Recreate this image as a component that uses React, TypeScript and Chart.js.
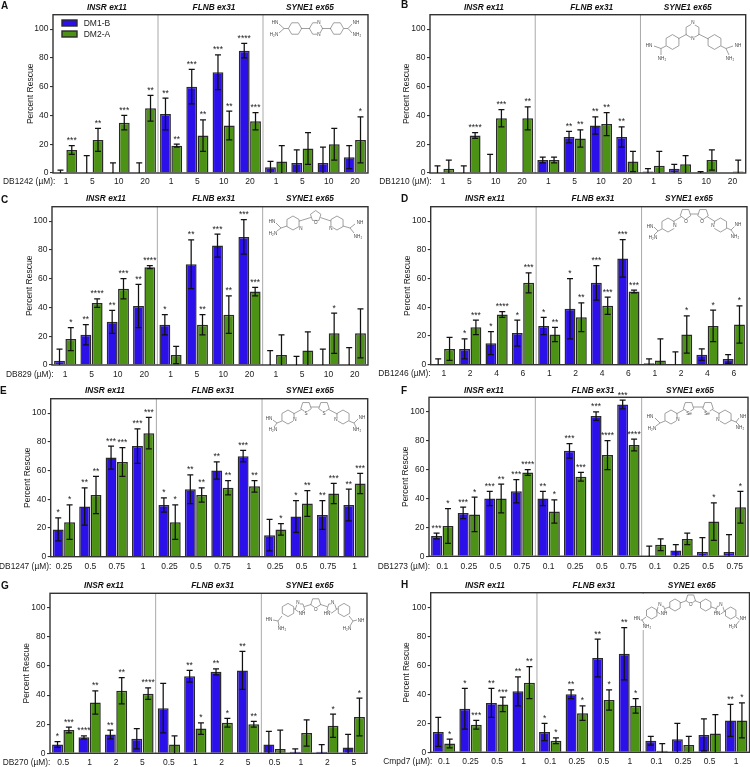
import React, { useEffect, useRef } from "react";
import { Chart, registerables } from "chart.js";

Chart.register(...registerables);

const FONT = "'Liberation Sans', Arial, sans-serif";
const BLUE = "#2b10ea";
const GREEN = "#4c9214";
const EDGE = "#2a2a2a";
const TEXT = "#222";
const series = ["DM1-B", "DM2-A"];
const sections = ["INSR ex11", "FLNB ex31", "SYNE1 ex65"];

const dosesA = ["1", "5", "10", "20"];
const dosesB = ["1", "5", "10", "20"];
const dosesC = ["1", "5", "10", "20"];
const dosesD = ["1", "2", "4", "6"];
const dosesE = ["0.25", "0.5", "0.75", "1"];
const dosesF = ["0.1", "0.25", "0.5", "0.75"];
const dosesG = ["0.5", "1", "2", "5"];
const dosesH = ["0.1", "0.25", "0.5", "1"];

const aBlue = [0, 0, 0, 0, 41, 60, 70, 85, 4, 7, 7, 11];
const aBlueErr = [2, 12, 7, 7, 11, 12, 12, 5, 4, 9, 11, 8];
const aGreen = [16, 23, 35, 45, 19, 26, 33, 36, 8, 17, 20, 23];
const aGreenErr = [3, 8, 5, 9, 1, 11, 10, 6, 11, 11, 11, 16];
const aBlueStars = ["", "", "", "", "**", "***", "***", "****", "", "", "", ""];
const aGreenStars = ["***", "**", "***", "**", "**", "**", "**", "***", "", "", "", "*"];

const bBlue = [0, 0, 0, 0, 9, 25, 33, 25, 1, 3, 0, 0];
const bBlueErr = [5, 5, 13, 0, 2, 4, 6, 7, 2, 3, 1, 0];
const bGreen = [3, 26, 38, 38, 9, 24, 34, 8, 5, 6, 9, 1];
const bGreenErr = [6, 2, 6, 8, 2, 6, 8, 7, 10, 6, 7, 8];
const bBlueStars = ["", "", "", "", "", "**", "**", "**", "", "", "", ""];
const bGreenStars = ["", "****", "***", "**", "", "**", "**", "", "", "", "", ""];

const cBlue = [3, 21, 30, 41, 28, 70, 83, 89, 0, 0, 0, 0];
const cBlueErr = [8, 7, 8, 15, 7, 17, 8, 12, 10, 6, 11, 12];
const cGreen = [18, 43, 53, 68, 7, 28, 35, 51, 7, 10, 22, 22];
const cGreenErr = [8, 3, 7, 1, 6, 7, 13, 3, 14, 13, 14, 17];
const cBlueStars = ["", "**", "**", "**", "*", "**", "***", "***", "", "", "", ""];
const cGreenStars = ["*", "****", "***", "****", "", "**", "**", "***", "", "", "*", ""];

const dBlue = [0, 11, 15, 22, 27, 39, 57, 74, 1, 0, 7, 4];
const dBlueErr = [4, 7, 8, 9, 6, 21, 12, 13, 3, 9, 4, 3];
const dGreen = [11, 26, 35, 57, 21, 33, 41, 51, 3, 21, 27, 28];
const dGreenErr = [8, 5, 2, 7, 5, 10, 6, 1, 15, 13, 11, 13];
const dBlueStars = ["", "*", "*", "*", "*", "*", "***", "***", "", "", "", ""];
const dGreenStars = ["", "***", "****", "***", "**", "**", "***", "***", "", "*", "*", "*"];

const eBlue = [19, 35, 69, 77, 36, 47, 60, 70, 15, 28, 29, 36];
const eBlueErr = [8, 13, 8, 12, 5, 10, 6, 4, 11, 11, 10, 11];
const eGreen = [24, 43, 66, 86, 24, 43, 48, 49, 19, 37, 44, 51];
const eGreenErr = [12, 13, 10, 11, 12, 5, 5, 4, 4, 9, 7, 7];
const eBlueStars = ["*", "**", "***", "***", "*", "**", "**", "***", "", "*", "**", "**"];
const eGreenStars = ["*", "**", "***", "***", "*", "**", "**", "**", "*", "**", "***", "***"];

const fBlue = [14, 30, 40, 45, 40, 73, 97, 105, 0, 4, 3, 3];
const fBlueErr = [2, 4, 5, 8, 5, 5, 3, 3, 7, 4, 10, 12];
const fGreen = [21, 29, 40, 58, 31, 55, 70, 77, 8, 12, 24, 34];
const fGreenErr = [12, 12, 10, 2, 8, 3, 10, 4, 4, 4, 13, 11];
const fBlueStars = ["***", "***", "***", "***", "**", "***", "***", "***", "", "", "", ""];
const fGreenStars = ["*", "*", "**", "****", "*", "***", "****", "****", "", "", "*", "*"];

const gBlue = [6, 11, 13, 10, 31, 53, 56, 57, 6, 1, 1, 4];
const gBlueErr = [2, 1, 3, 7, 17, 4, 2, 13, 9, 2, 5, 9];
const gGreen = [16, 35, 43, 41, 6, 17, 21, 20, 3, 14, 19, 25];
const gGreenErr = [2, 8, 9, 4, 6, 4, 3, 2, 13, 9, 8, 13];
const gBlueStars = ["*", "****", "**", "", "", "**", "**", "**", "", "", "", ""];
const gGreenStars = ["***", "**", "**", "****", "", "*", "*", "**", "", "", "*", "*"];

const hBlue = [14, 30, 34, 42, 14, 40, 65, 68, 8, 9, 12, 22];
const hBlueErr = [10, 14, 10, 10, 6, 3, 13, 18, 3, 11, 11, 11];
const hGreen = [6, 19, 33, 48, 8, 27, 36, 32, 1, 5, 13, 22];
const hGreenErr = [3, 3, 5, 11, 2, 5, 7, 5, 5, 6, 13, 12];
const hBlueStars = ["", "*", "**", "**", "*", "**", "**", "**", "", "", "", "**"];
const hGreenStars = ["*", "***", "***", "**", "*", "*", "*", "*", "", "", "", "*"];

type Ring = [number, number, number, number, number];
type Lab = [string, number, number];
type Seg = [number, number, number, number];
type Structure = { rings: Ring[]; labs: Lab[]; segs: Seg[]; mask?: number[] };

// Compound line drawings (page pixels): rings are [cx, cy, sides, radius, rotation].
const amidine = (cx: number, cy: number, rx: number, ry: number, a: number[], b: number[]): Seg[] => [
  [rx, ry, cx, cy],
  [cx, cy, a[0], a[1]],
  [cx, cy, b[0], b[1]],
];

const structA: Structure = {
  rings: [[295, 28.5, 6, 6.6, 0], [316, 28.5, 6, 6.6, 0], [337, 28.5, 6, 6.6, 0]],
  labs: [["HN", 275, 23], ["H₂N", 274, 35], ["N", 319, 22.5], ["N", 319, 35], ["NH", 356, 22.5], ["NH₂", 357, 35]],
  segs: [...amidine(284, 28.5, 288.4, 28.5, [279, 24], [279, 33]), ...amidine(348, 28.5, 343.6, 28.5, [352, 24], [352, 33])],
};
const structB: Structure = {
  rings: [[672.5, 42, 6, 7.4, 30], [692.5, 31, 6, 7.4, 30], [714.5, 42, 6, 7.4, 30]],
  labs: [["HN", 649, 46], ["NH₂", 662, 59], ["N", 693, 23], ["N", 693, 38.5], ["NH", 738, 46], ["NH₂", 730, 59]],
  segs: [...amidine(661, 48.5, 666, 46, [654, 46], [661, 55]), ...amidine(726, 48.5, 721, 46, [733, 46], [729, 55])],
};
const structC: Structure = {
  rings: [[293, 223, 6, 7, 30], [315.7, 216, 5, 5.5, -90], [337, 223, 6, 7, 30]],
  labs: [["HN", 272, 222], ["H₂N", 273, 234], ["N", 301, 229], ["O", 315.7, 223], ["N", 331, 229], ["NH", 360, 223], ["NH₂", 358, 237]],
  segs: [...amidine(281, 228, 287, 226, [276, 223], [277, 231]), ...amidine(350, 228, 343, 226, [355, 224], [354, 233])],
};
const structD: Structure = {
  rings: [[668, 225, 6, 7, 30], [685.5, 214, 5, 5.5, 90], [703, 214, 5, 5.5, 90], [720.5, 225, 6, 7, 30]],
  labs: [["HN", 650, 226.5], ["H₂N", 653, 238], ["N", 675, 226], ["O", 686, 222], ["O", 702, 222], ["N", 713, 226], ["NH", 738, 225], ["NH₂", 735, 237]],
  segs: [...amidine(658, 231, 662, 229, [654, 227], [654, 235]), ...amidine(731, 230, 727, 228, [735, 226], [734, 234])],
};
const structE: Structure = {
  rings: [[288, 417, 6, 7, 30], [306, 407, 5, 5.5, 90], [324, 407, 5, 5.5, 90], [343, 417, 6, 7, 30]],
  labs: [["HN", 269, 419], ["H₂N", 273, 430], ["N", 295, 420], ["S", 306, 413.5], ["S", 324, 413.5], ["N", 336, 420], ["NH", 362, 418], ["NH₂", 357, 430]],
  segs: [...amidine(277, 423, 282, 421, [273, 420], [274, 427]), ...amidine(354, 423, 349, 421, [358, 419], [356, 427])],
};
const structF: Structure = {
  rings: [[671, 417, 6, 7, 30], [688.5, 407, 5, 5.5, 90], [708, 407, 5, 5.5, 90], [725, 417, 6, 7, 30]],
  labs: [["HN", 650, 417], ["H₂N", 652, 429], ["N", 678, 420], ["Se", 689, 413.5], ["Se", 707, 413.5], ["N", 718, 420], ["NH", 743, 417], ["NH₂", 740, 428]],
  segs: [...amidine(660, 423, 665, 421, [655, 418], [656, 426]), ...amidine(736, 422, 731, 420, [739, 418], [739, 425])],
};
const structG: Structure = {
  rings: [[288, 610, 6, 6.6, 30], [300, 608, 5, 5, 18], [315.7, 603, 5, 5.2, 90], [331.7, 608, 5, 5, 162], [344, 610, 6, 6.6, 30]],
  labs: [["HN", 269, 620], ["NH₂", 282, 629], ["N", 298, 602.5], ["NH", 302, 614], ["O", 315.7, 609.5], ["HN", 327, 614], ["N", 332.7, 602.5], ["NH", 361, 620.5], ["H₂N", 347, 629]],
  segs: [...amidine(278, 621, 282, 616, [273, 620], [279, 626]), ...amidine(353, 621, 349, 616, [357, 620], [350, 626])],
};
const structH: Structure = {
  rings: [[651.7, 613, 6, 6, 30], [661, 610, 5, 4.6, 18], [675, 605, 6, 6, 30], [690.7, 599, 5, 5, 90], [705.7, 605, 6, 6, 30], [720, 610, 5, 4.6, 162], [730.7, 613, 6, 6, 30]],
  labs: [["HN", 637, 619], ["NH₂", 647, 627], ["N", 660, 605], ["NH", 664, 614], ["O", 690.7, 605], ["HN", 717, 614], ["N", 721, 605], ["NH", 743, 619], ["H₂N", 733, 627]],
  segs: [...amidine(642, 620, 646, 617, [640, 620], [645, 625]), ...amidine(740, 620, 736, 617, [741, 620], [736, 625])],
  mask: [636, 594, 110, 36],
};

type Panel = {
  letter: string; compound: string; doses: string[];
  blue: number[]; blueErr: number[]; green: number[]; greenErr: number[];
  blueStars: string[]; greenStars: string[];
  box: number[]; plot: number[]; letterAt: number[]; labelAt: number[]; titleX: number[]; titleY: number; yTitleX: number;
  struct: Structure; legend?: boolean;
};

const panels: Panel[] = [
  { letter: "A", compound: "DB1242", doses: dosesA, blue: aBlue, blueErr: aBlueErr, green: aGreen, greenErr: aGreenErr, blueStars: aBlueStars, greenStars: aGreenStars,
    box: [0, 0, 375, 192], plot: [53, 14.7, 368, 173], letterAt: [1, 6.7], labelAt: [3, 182], titleX: [107, 214, 310], titleY: 7.3, yTitleX: 30.7, struct: structA, legend: true },
  { letter: "B", compound: "DB1210", doses: dosesB, blue: bBlue, blueErr: bBlueErr, green: bGreen, greenErr: bGreenErr, blueStars: bBlueStars, greenStars: bGreenStars,
    box: [375, 0, 375, 192], plot: [430, 14.7, 745.7, 173], letterAt: [401, 5.5], labelAt: [379.3, 182], titleX: [484, 591.7, 687.7], titleY: 7.3, yTitleX: 406.7, struct: structB },
  { letter: "C", compound: "DB829", doses: dosesC, blue: cBlue, blueErr: cBlueErr, green: cGreen, greenErr: cGreenErr, blueStars: cBlueStars, greenStars: cGreenStars,
    box: [0, 192, 375, 192], plot: [52, 206.7, 368, 365], letterAt: [1, 200], labelAt: [6, 374.3], titleX: [106, 213.7, 310], titleY: 199, yTitleX: 29.3, struct: structC },
  { letter: "D", compound: "DB1246", doses: dosesD, blue: dBlue, blueErr: dBlueErr, green: dGreen, greenErr: dGreenErr, blueStars: dBlueStars, greenStars: dGreenStars,
    box: [375, 192, 375, 192], plot: [430.7, 206.7, 747, 364.7], letterAt: [401, 199.5], labelAt: [378.3, 374], titleX: [485, 593, 689], titleY: 199, yTitleX: 407.3, struct: structD },
  { letter: "E", compound: "DB1247", doses: dosesE, blue: eBlue, blueErr: eBlueErr, green: eGreen, greenErr: eGreenErr, blueStars: eBlueStars, greenStars: eGreenStars,
    box: [0, 384, 375, 192], plot: [50.7, 398.7, 367.7, 556.7], letterAt: [0, 391.3], labelAt: [-1, 566.3], titleX: [105, 213, 310], titleY: 391, yTitleX: 28, struct: structE },
  { letter: "F", compound: "DB1273", doses: dosesF, blue: fBlue, blueErr: fBlueErr, green: fGreen, greenErr: fGreenErr, blueStars: fBlueStars, greenStars: fGreenStars,
    box: [375, 384, 375, 192], plot: [429, 397.3, 748, 556.3], letterAt: [401, 391.3], labelAt: [377.7, 566.3], titleX: [484, 593, 690], titleY: 390.3, yTitleX: 405.7, struct: structF },
  { letter: "G", compound: "DB270", doses: dosesG, blue: gBlue, blueErr: gBlueErr, green: gGreen, greenErr: gGreenErr, blueStars: gBlueStars, greenStars: gGreenStars,
    box: [0, 576, 375, 191], plot: [50, 593.3, 367, 753.3], letterAt: [1, 586], labelAt: [2.7, 762.7], titleX: [104, 212.7, 309.7], titleY: 586, yTitleX: 26.7, struct: structG },
  { letter: "H", compound: "Cmpd7", doses: dosesH, blue: hBlue, blueErr: hBlueErr, green: hGreen, greenErr: hGreenErr, blueStars: hBlueStars, greenStars: hGreenStars,
    box: [375, 576, 375, 191], plot: [430.7, 592.7, 749.5, 752.3], letterAt: [401, 585.7], labelAt: [383.3, 761.7], titleX: [485, 594, 691.7], titleY: 585.3, yTitleX: 406.7, struct: structH },
];

const FS = 8.5;
const LH = FS * 1.2;

function drawStructure(ctx: CanvasRenderingContext2D, s: Structure, ox: number, oy: number) {
  ctx.save();
  ctx.translate(-ox, -oy);
  if (s.mask) {
    ctx.fillStyle = "#fff";
    ctx.fillRect(s.mask[0], s.mask[1], s.mask[2], s.mask[3]);
  }
  ctx.strokeStyle = "#777";
  ctx.lineWidth = 0.7;
  s.rings.forEach(([cx, cy, n, r, rot]) => {
    ctx.beginPath();
    for (let i = 0; i < n; i++) {
      const a = ((rot + (i * 360) / n) * Math.PI) / 180;
      const x = cx + r * Math.cos(a);
      const y = cy + r * Math.sin(a);
      if (i === 0) ctx.moveTo(x, y);
      else ctx.lineTo(x, y);
    }
    ctx.closePath();
    ctx.stroke();
  });
  for (let i = 0; i + 1 < s.rings.length; i++) {
    const [x1, y1, , r1] = s.rings[i];
    const [x2, y2, , r2] = s.rings[i + 1];
    const d = Math.hypot(x2 - x1, y2 - y1);
    if (d <= r1 + r2) continue;
    const ux = (x2 - x1) / d;
    const uy = (y2 - y1) / d;
    ctx.beginPath();
    ctx.moveTo(x1 + ux * r1 * 0.9, y1 + uy * r1 * 0.9);
    ctx.lineTo(x2 - ux * r2 * 0.9, y2 - uy * r2 * 0.9);
    ctx.stroke();
  }
  s.segs.forEach(([a, b, c, d]) => {
    ctx.beginPath();
    ctx.moveTo(a, b);
    ctx.lineTo(c, d);
    ctx.stroke();
  });
  ctx.font = `4.6px ${FONT}`;
  ctx.textAlign = "center";
  ctx.textBaseline = "middle";
  s.labs.forEach(([t, x, y]) => {
    const w = ctx.measureText(t).width;
    ctx.fillStyle = "#fff";
    ctx.fillRect(x - w / 2 - 0.3, y - 2.3, w + 0.6, 4.6);
    ctx.fillStyle = "#444";
    ctx.fillText(t, x, y);
  });
  ctx.restore();
}

function makeChart(canvas: HTMLCanvasElement, p: Panel) {
  const [bx, by, bw, bh] = p.box;
  const [l, t, r, b] = p.plot;
  const labels = [...p.doses, ...p.doses, ...p.doses];
  const errs = [p.blueErr, p.greenErr];
  const stars = [p.blueStars, p.greenStars];

  const overlay = {
    id: "overlay",
    afterDatasetsDraw(chart: any) {
      const ctx: CanvasRenderingContext2D = chart.ctx;
      const { left, right, top, bottom } = chart.chartArea;
      const x = chart.scales.x;
      const y = chart.scales.y;
      ctx.save();
      ctx.strokeStyle = "#a9a9a9";
      ctx.lineWidth = 1;
      [3.5, 7.5].forEach((v) => {
        const px = x.getPixelForValue(v);
        ctx.beginPath();
        ctx.moveTo(px, top);
        ctx.lineTo(px, bottom);
        ctx.stroke();
      });
      ctx.strokeStyle = "#333";
      ctx.lineWidth = 1.4;
      ctx.strokeRect(left, top, right - left, bottom - top);

      drawStructure(ctx, p.struct, bx, by);

      ctx.strokeStyle = "#111";
      ctx.lineWidth = 1.25;
      chart.data.datasets.forEach((ds: any, di: number) => {
        chart.getDatasetMeta(di).data.forEach((bar: any, i: number) => {
          const v = ds.data[i];
          const e = errs[di][i];
          const cx = bar.x;
          const hi = y.getPixelForValue(v + e);
          const lowVal = Math.max(0, v - e);
          const lo = y.getPixelForValue(lowVal);
          if (e > 0) {
            ctx.beginPath();
            ctx.moveTo(cx, hi);
            ctx.lineTo(cx, lo);
            ctx.moveTo(cx - 3, hi);
            ctx.lineTo(cx + 3, hi);
            if (lowVal > 0) {
              ctx.moveTo(cx - 3, lo);
              ctx.lineTo(cx + 3, lo);
            }
            ctx.stroke();
          }
          const st = stars[di][i];
          if (st) {
            ctx.fillStyle = TEXT;
            ctx.font = `${FS}px ${FONT}`;
            ctx.textAlign = "center";
            ctx.textBaseline = "alphabetic";
            ctx.fillText(st, cx, hi - 2.5);
          }
        });
      });

      ctx.fillStyle = "#111";
      ctx.font = `bold italic 8.3px ${FONT}`;
      ctx.textAlign = "center";
      ctx.textBaseline = "middle";
      sections.forEach((s, i) => ctx.fillText(s, p.titleX[i] - bx, p.titleY - by));

      ctx.font = `bold 10px ${FONT}`;
      ctx.textAlign = "left";
      ctx.fillText(p.letter, p.letterAt[0] - bx, p.letterAt[1] - by);

      ctx.fillStyle = TEXT;
      ctx.font = `8.4px ${FONT}`;
      ctx.fillText(`${p.compound} (µM):`, p.labelAt[0] - bx, p.labelAt[1] - by);

      if (p.legend) {
        ctx.font = `${FS}px ${FONT}`;
        [BLUE, GREEN].forEach((c, i) => {
          const ly = 20 + i * 11;
          ctx.fillStyle = c;
          ctx.fillRect(62, ly, 15, 6);
          ctx.strokeStyle = EDGE;
          ctx.lineWidth = 1.4;
          ctx.strokeRect(62, ly, 15, 6);
          ctx.fillStyle = TEXT;
          ctx.fillText(series[i], 83.7, ly + 3.3);
        });
      }
      ctx.restore();
    },
  };

  const bar = (label: string, data: number[], color: string) => ({
    label,
    data,
    backgroundColor: color,
    borderColor: EDGE,
    borderWidth: 1.5,
    borderSkipped: "bottom",
    categoryPercentage: 0.86,
    barPercentage: 0.96,
  });

  return new Chart(canvas, {
    type: "bar",
    data: {
      labels,
      datasets: [bar(series[0], p.blue, BLUE), bar(series[1], p.green, GREEN)],
    },
    plugins: [overlay],
    options: {
      responsive: false,
      animation: false,
      devicePixelRatio: 1,
      layout: { padding: { left: 0, top: t - by, right: bx + bw - r, bottom: 0 } },
      plugins: { legend: { display: false }, tooltip: { enabled: false }, title: { display: false } },
      scales: {
        x: {
          type: "category",
          afterFit: (s: any) => { s.height = by + bh - b; },
          grid: { display: false, drawTicks: false },
          border: { display: false },
          ticks: {
            autoSkip: false, maxRotation: 0, minRotation: 0,
            padding: p.labelAt[1] - b - LH / 2,
            color: TEXT, font: { family: FONT, size: FS },
          },
        },
        y: {
          type: "linear",
          min: 0,
          max: 110,
          afterFit: (s: any) => { s.width = l - bx; },
          afterBuildTicks: (s: any) => { s.ticks = s.ticks.filter((k: any) => k.value <= 100); },
          grid: { display: true, drawOnChartArea: false, drawTicks: true, tickLength: 3, color: "#333", lineWidth: 1.1 },
          border: { display: false },
          ticks: { stepSize: 20, padding: 1.5, color: TEXT, font: { family: FONT, size: FS } },
          title: {
            display: true,
            text: "Percent Rescue",
            color: TEXT,
            font: { family: FONT, size: FS },
            padding: { top: p.yTitleX - bx - LH / 2, bottom: 0 },
          },
        },
      },
    },
  } as any);
}

function PanelChart({ p }: { p: Panel }) {
  const ref = useRef<HTMLCanvasElement>(null);
  useEffect(() => {
    const c = makeChart(ref.current!, p);
    return () => c.destroy();
  }, [p]);
  const [x, y, w, h] = p.box;
  return (
    <canvas
      ref={ref}
      width={w}
      height={h}
      style={{ position: "absolute", left: x, top: y, width: w, height: h, display: "block" }}
    />
  );
}

export default function App() {
  useEffect(() => {
    document.body.style.margin = "0";
  }, []);
  return (
    <div style={{ position: "absolute", left: 0, top: 0, width: 750, height: 767, background: "#fff", overflow: "hidden" }}>
      {panels.map((p) => (
        <PanelChart key={p.letter} p={p} />
      ))}
    </div>
  );
}
